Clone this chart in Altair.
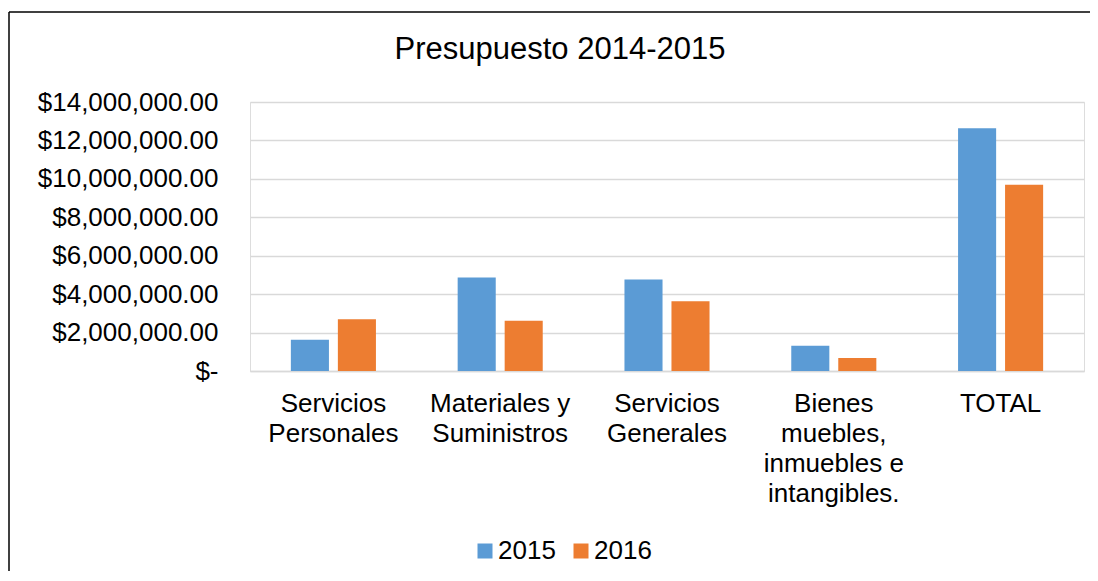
import altair as alt
import pandas as pd

title_text = "Presupuesto 2014-2015"
categories = [
    "Servicios\nPersonales",
    "Materiales y\nSuministros",
    "Servicios\nGenerales",
    "Bienes\nmuebles,\ninmuebles e\nintangibles.",
    "TOTAL",
]
values_2015 = [1620000, 4870000, 4760000, 1310000, 12630000]
values_2016 = [2690000, 2620000, 3630000, 680000, 9690000]
years = ["2015", "2016"]
y_ticks = [0, 2000000, 4000000, 6000000, 8000000, 10000000, 12000000, 14000000]

rows = []
for c, a, b in zip(categories, values_2015, values_2016):
    rows.append({"cat": c, "year": years[0], "value": a})
    rows.append({"cat": c, "year": years[1], "value": b})
df = pd.DataFrame(rows)

FONT = "Liberation Sans"

bars = alt.Chart(df).mark_bar().encode(
    x=alt.X(
        "cat:N",
        sort=categories,
        scale=alt.Scale(paddingInner=0.49, paddingOuter=0.245),
        axis=alt.Axis(
            title=None,
            labelAngle=0,
            labelExpr="split(datum.label, '\\n')",
            labelFontSize=26,
            labelFont=FONT,
            labelColor="#000000",
            labelLineHeight=30,
            labelPadding=19,
            ticks=False,
            tickSize=0,
            domain=True,
            domainColor="#d9d9d9",
            domainWidth=1.5,
            grid=False,
            labelLimit=400,
        ),
    ),
    xOffset=alt.XOffset("year:N", sort=years, scale=alt.Scale(paddingInner=0.19)),
    y=alt.Y(
        "value:Q",
        scale=alt.Scale(domain=[0, 14000000], nice=False),
        axis=alt.Axis(
            title=None,
            values=y_ticks,
            labelExpr="datum.value == 0 ? '$-\u00a0\u00a0' : format(datum.value, '$,.2f')",
            labelFontSize=26,
            labelFont=FONT,
            labelColor="#000000",
            labelPadding=32,
            ticks=False,
            tickSize=0,
            domain=False,
            grid=True,
            gridColor="#d9d9d9",
            gridWidth=1.5,
            labelLimit=400,
        ),
    ),
    color=alt.Color(
        "year:N",
        sort=years,
        scale=alt.Scale(domain=years, range=["#5B9BD5", "#ED7D31"]),
        legend=alt.Legend(
            title=None,
            orient="none",
            direction="horizontal",
            legendX=222,
            legendY=436,
            symbolType="square",
            symbolSize=225,
            symbolStrokeWidth=0,
            labelFontSize=26,
            labelFont=FONT,
            labelColor="#000000",
            labelOffset=0,
            columnPadding=12,
        ),
    ),
)

title = alt.Chart(alt.Data(values=[{"t": title_text}])).mark_text(
    font=FONT, fontSize=31, color="#000000", align="center", baseline="alphabetic"
).encode(text="t:N", x=alt.value(310), y=alt.value(-43))

border_left = alt.Chart(alt.Data(values=[{}])).mark_rule(color="#000000", strokeWidth=1.5).encode(
    x=alt.value(-241), y=alt.value(-90), y2=alt.value(520)
)
border_top = alt.Chart(alt.Data(values=[{}])).mark_rule(color="#000000", strokeWidth=1.5).encode(
    x=alt.value(-241), x2=alt.value(900), y=alt.value(-90)
)

chart = alt.layer(bars, title, border_left, border_top).properties(
    width=834,
    height=269,
    autosize=alt.AutoSizeParams(type="none"),
    padding={"left": 242, "top": 94, "right": 6, "bottom": 200},
).configure_view(strokeWidth=0, stroke="transparent").configure(background="#ffffff")

chart.save("out.html", embed_options={"renderer": "svg", "actions": False})
